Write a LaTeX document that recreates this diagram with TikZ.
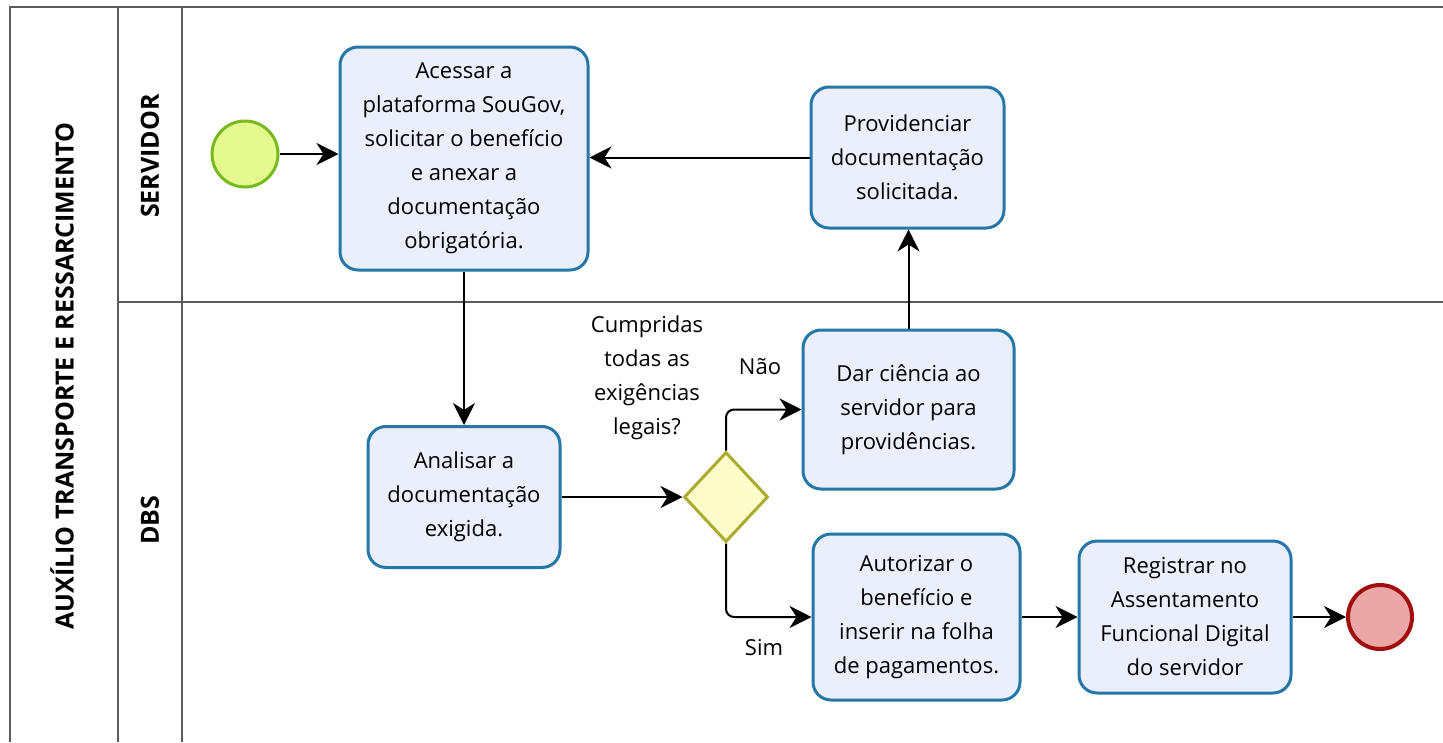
\documentclass[tikz,border=0pt]{standalone}
\usepackage{fontspec}
\setmainfont{Open Sans}
\usetikzlibrary{arrows.meta,shapes.geometric}
\definecolor{taskfill}{HTML}{EBEFFC}
\definecolor{taskdraw}{HTML}{2477A6}
\definecolor{startfill}{HTML}{E5FA8E}
\definecolor{startdraw}{HTML}{78B91F}
\definecolor{endfill}{HTML}{EBA6A6}
\definecolor{enddraw}{HTML}{A00E0E}
\definecolor{gwfill}{HTML}{FDFDCB}
\definecolor{gwdraw}{HTML}{ABAB2E}
\definecolor{lanecol}{HTML}{5A5A5A}
\begin{document}
\begin{tikzpicture}[x=1pt,y=-1pt,
  task/.style={draw=taskdraw,fill=taskfill,line width=3pt,rounded corners=18pt,
    align=center,inner sep=0pt,font=\fontsize{22}{34}\selectfont},
  evstart/.style={circle,draw=startdraw,fill=startfill,line width=3pt,minimum size=66pt,inner sep=0pt},
  evend/.style={circle,draw=enddraw,fill=endfill,line width=4pt,minimum size=64pt,inner sep=0pt},
  gateway/.style={diamond,draw=gwdraw,fill=gwfill,line width=3pt,minimum width=84pt,minimum height=90pt,aspect=0.93,inner sep=0pt},
  flow/.style={draw=black,line width=2pt,-{Stealth[length=22pt,width=22pt,inset=7pt]}},
  lane/.style={draw=lanecol,line width=2pt},
  lbl/.style={align=center,inner sep=0pt,font=\fontsize{22}{34}\selectfont},
  lanetitle/.style={rotate=90,inner sep=0pt,font=\bfseries\fontsize{25}{28}\selectfont}]
\useasboundingbox (0,0) rectangle (1443,742);
\fill[white] (0,0) rectangle (1443,742);
% pool and lanes
\draw[lane] (10,742) -- (10,7) -- (1443,7);
\draw[lane] (118,7) -- (118,742);
\draw[lane] (182,7) -- (182,742);
\draw[lane] (118,302) -- (1443,302);
\node[lanetitle] (pool) at (62,376) {AUXÍLIO TRANSPORTE E RESSARCIMENTO};
\node[lanetitle] (l1) at (150,156) {SERVIDOR};
\node[lanetitle] (l2) at (150,520) {DBS};
% nodes
\node[evstart] (start) at (245,154) {};
\node[task,minimum width=248pt,minimum height=223pt] (t1) at (464,158.5)
  {Acessar a\\plataforma SouGov,\\solicitar o benefício\\e anexar a\\documentação\\obrigatória.};
\node[task,minimum width=193pt,minimum height=141pt] (t2) at (907.5,157.5)
  {Providenciar\\documentação\\solicitada.};
\node[task,minimum width=192pt,minimum height=141pt] (t3) at (464,497)
  {Analisar a\\documentação\\exigida.};
\node[gateway] (gw) at (726,497) {};
\node[task,minimum width=211pt,minimum height=159pt] (t4) at (908.5,409.5)
  {Dar ciência ao\\servidor para\\providências.};
\node[task,minimum width=207pt,minimum height=166pt] (t5) at (916.5,617)
  {Autorizar o\\benefício e\\inserir na folha\\de pagamentos.};
\node[task,minimum width=212pt,minimum height=152pt] (t6) at (1185,617)
  {Registrar no\\Assentamento\\Funcional Digital\\do servidor};
\node[evend] (end) at (1380,617) {};
% labels
\node[lbl] (q) at (647,378) {Cumpridas\\todas as\\exigências\\legais?};
\node[lbl] (nao) at (760,367) {Não};
\node[lbl] (sim) at (764,648) {Sim};
% flows
\draw[flow] (start) -- (start -| t1.west);
\draw[flow] (t2.west) -- (t2.west -| t1.east);
\draw[flow] (t1.south) -- (t3.north);
\draw[flow] (t3.east) -- (gw.west);
\draw[flow,rounded corners=8pt] (gw.north) |- (t4.west);
\draw[flow,rounded corners=8pt] (gw.south) |- (t5.west);
\draw[flow] (t4.north) -- (t4.north |- t2.south);
\draw[flow] (t5.east) -- (t6.west);
\draw[flow] (t6.east) -- (end.west);
\end{tikzpicture}
\end{document}
